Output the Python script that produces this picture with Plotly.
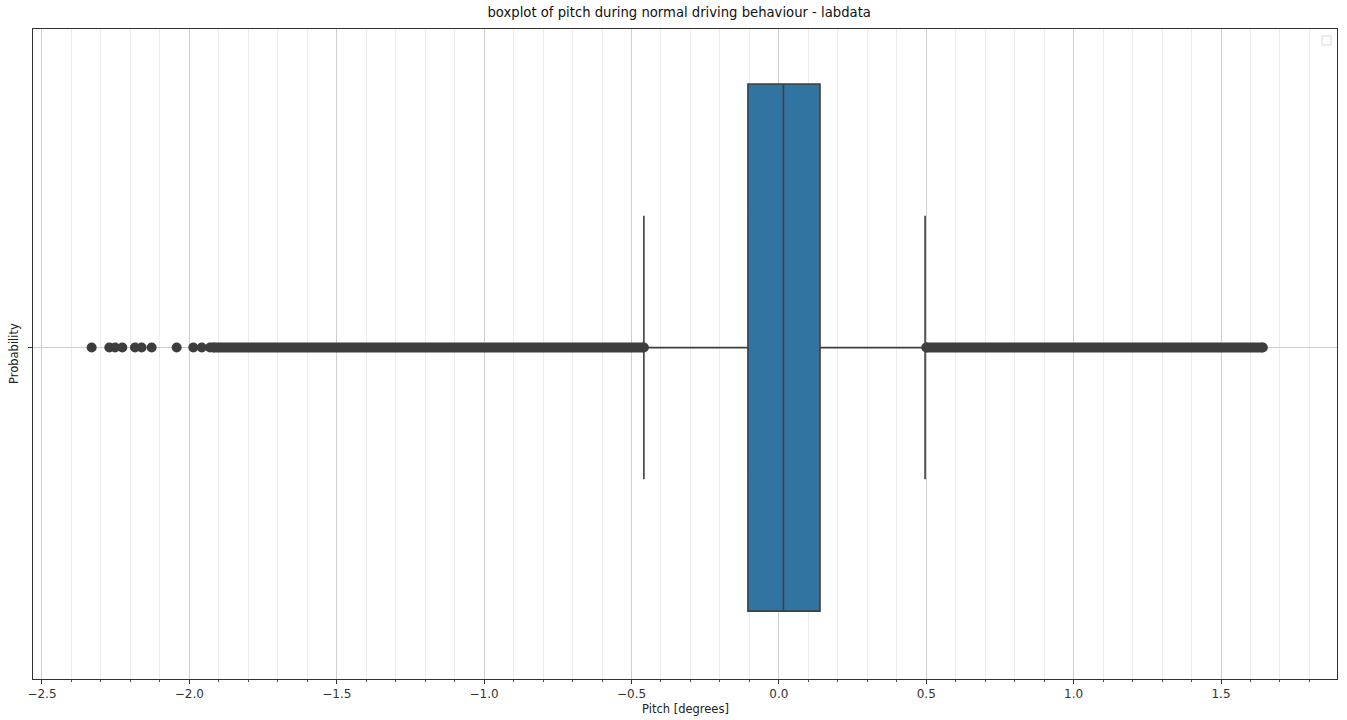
import plotly.graph_objects as go

# ---- data ----
category = [0]
q1 = [-0.105]
median = [0.0155]
q3 = [0.1395]
lower_whisker = [-0.458]
upper_whisker = [0.496]

# sparse outliers on the far left
sparse_outliers = [-2.3315, -2.2716, -2.252, -2.2275, -2.1845, -2.162, -2.128,
                   -2.043, -1.9866, -1.958, -1.930]
# dense outlier bands (start, end)
left_dense_band = [-1.92, -0.458]
right_dense_band = [0.50, 1.642]

x_range = [-2.5305, 1.8935]
y_range = [-0.503, 0.4835]
major_ticks = [-2.5, -2.0, -1.5, -1.0, -0.5, 0.0, 0.5, 1.0, 1.5]
major_tick_labels = ["\u22122.5", "\u22122.0", "\u22121.5", "\u22121.0", "\u22120.5",
                     "0.0", "0.5", "1.0", "1.5"]

BOX_FILL = "#3274a1"
EDGE = "#3f3f3f"
FLIER = "#3d3d3d"
FONT = "DejaVu Sans, sans-serif"

W, H = 1347, 720
ML, MR, MT, MB = 33, 10, 29, 41
PW, PH = W - ML - MR, H - MT - MB

fig = go.Figure()

fig.add_trace(go.Box(
    y=category, q1=q1, median=median, q3=q3,
    lowerfence=lower_whisker, upperfence=upper_whisker,
    orientation="h", width=0.8, whiskerwidth=0.5,
    fillcolor=BOX_FILL, line=dict(color=EDGE, width=1.6),
    boxpoints=False, showlegend=False, hoverinfo="skip",
))

for band in (left_dense_band, right_dense_band):
    fig.add_trace(go.Scatter(
        x=band, y=category * len(band), mode="lines+markers",
        line=dict(color=FLIER, width=10),
        marker=dict(color=FLIER, size=10, symbol="circle"),
        showlegend=False, hoverinfo="skip",
    ))

fig.add_trace(go.Scatter(
    x=sparse_outliers, y=category * len(sparse_outliers), mode="markers",
    marker=dict(color=FLIER, size=10, symbol="circle"),
    showlegend=False, hoverinfo="skip",
))

fig.update_layout(
    width=W, height=H,
    margin=dict(l=ML, r=MR, t=MT, b=MB, autoexpand=False),
    paper_bgcolor="white", plot_bgcolor="white",
    font=dict(family=FONT, size=11, color="#222222"),
    title=dict(text="boxplot of pitch during normal driving behaviour - labdata",
               x=(667.5) / W, xref="paper", xanchor="center",
               y=1 - 12 / H, yanchor="middle",
               font=dict(family=FONT, size=13.2, color="#111111")),
    showlegend=False,
)

fig.update_xaxes(
    range=x_range, tickvals=major_ticks, ticktext=major_tick_labels,
    showgrid=True, gridcolor="#cfcfcf", gridwidth=1,
    ticks="outside", ticklen=4, tickcolor="#333333",
    showline=True, mirror=True, linecolor="#333333", linewidth=1,
    zeroline=False, automargin=False,
    tickfont=dict(family=FONT, size=12, color="#333333"),
    minor=dict(dtick=0.1, tick0=0, showgrid=True, gridcolor="#ececec",
               ticks="outside", ticklen=2, tickcolor="#555555"),
)

fig.update_yaxes(
    range=y_range, tickvals=[0], ticktext=[""],
    showgrid=True, gridcolor="#cfcfcf", gridwidth=1,
    ticks="outside", ticklen=4, tickcolor="#333333",
    showline=True, mirror=True, linecolor="#333333", linewidth=1,
    zeroline=False, automargin=False,
)

# axis titles
fig.add_annotation(text="Pitch [degrees]", xref="paper", yref="paper",
                   x=0.5, y=-30 / PH, xanchor="center", yanchor="middle",
                   showarrow=False, font=dict(family=FONT, size=11.5, color="#222222"))
fig.add_annotation(text="Probability", xref="paper", yref="paper",
                   x=-19 / PW, y=0.5, xanchor="center", yanchor="middle",
                   textangle=-90, showarrow=False,
                   font=dict(family=FONT, size=11.5, color="#222222"))

# empty legend frame (matplotlib legend with no handles)
fig.add_shape(type="rect", xref="paper", yref="paper",
              x0=(1322 - ML) / PW, x1=(1331 - ML) / PW,
              y0=1 - (45 - MT) / PH, y1=1 - (36 - MT) / PH,
              line=dict(color="#d8d8d8", width=1), fillcolor="white", layer="above")

fig.write_html("out.html", config={"displayModeBar": False},
               post_script="document.body.style.margin='0';")
